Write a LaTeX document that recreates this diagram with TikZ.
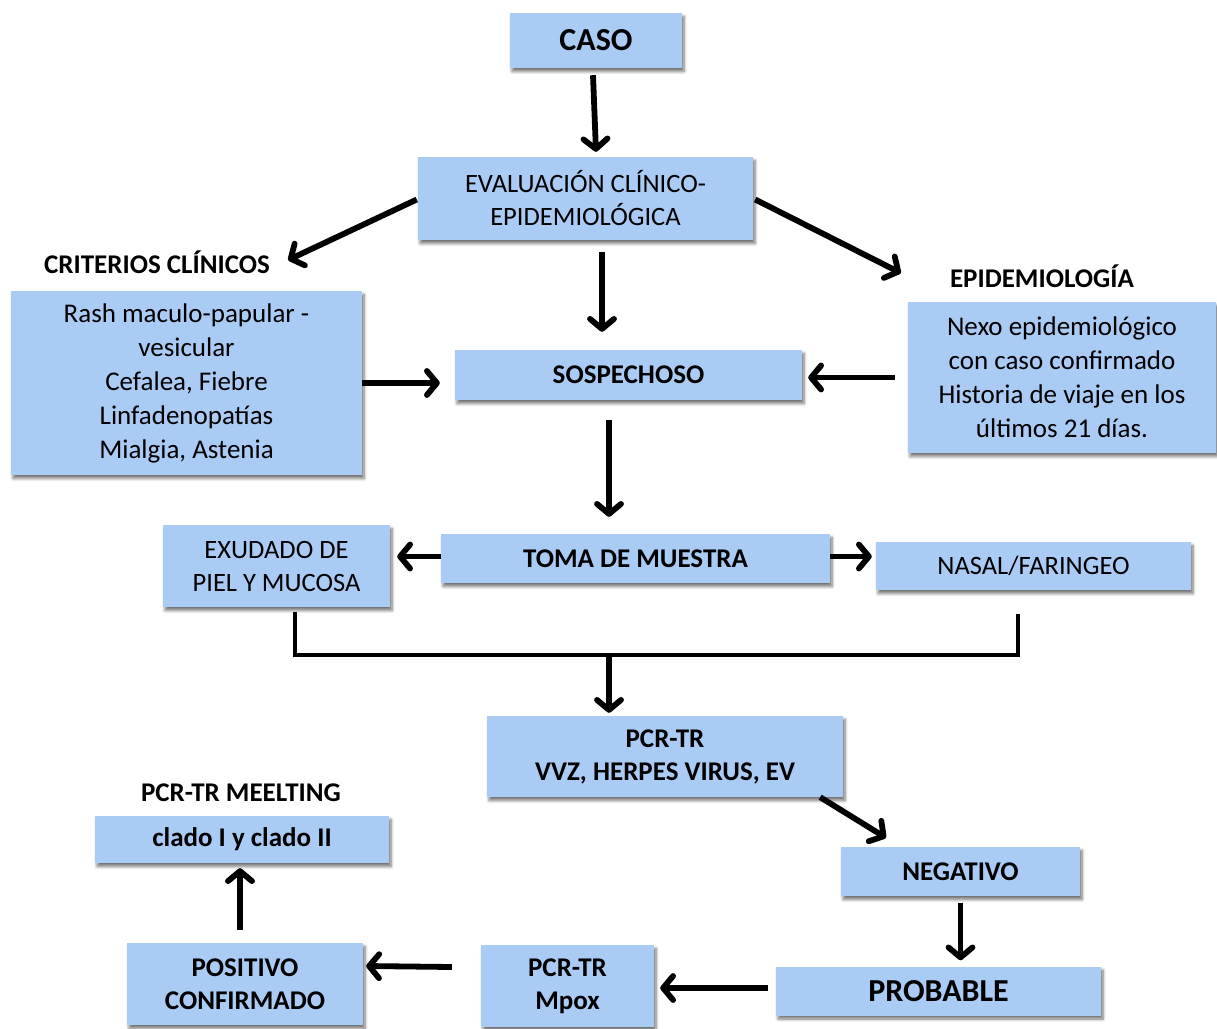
\documentclass[tikz,border=0pt]{standalone}
\usepackage{fontspec}
\setmainfont{Carlito}
\usetikzlibrary{arrows.meta,shadows.blur}
\definecolor{boxblue}{RGB}{169,203,244}
\tikzset{
  box/.style={fill=boxblue, inner sep=0pt, align=center,
    blur shadow={shadow xshift=2pt, shadow yshift=-3.5pt, shadow opacity=55, shadow blur steps=6, shadow blur radius=3pt},
    font=\fontsize{26.5}{33}\selectfont},
  boldbox/.style={box, font=\fontsize{27}{33}\selectfont\bfseries},
  bigbox/.style={box, font=\fontsize{32}{33}\selectfont\bfseries},
  lab/.style={inner sep=0pt, font=\fontsize{27}{30}\selectfont\bfseries},
  arr/.style={line width=5.8pt, -{Straight Barb[length=10pt,width=24pt,line cap=round,line join=round]}},
  line/.style={line width=4.5pt}
}
\begin{document}
\begin{tikzpicture}[x=1pt,y=-1pt]
\useasboundingbox (0,0) rectangle (1217,1028);
% boxes
\node[bigbox, minimum width=172, minimum height=55] (caso) at (596,40.5) {CASO};
\node[box, minimum width=335, minimum height=83] (eval) at (585.5,198.5) {EVALUACIÓN CLÍNICO-\\EPIDEMIOLÓGICA};
\node[lab] (crit) at (157,262) {CRITERIOS CLÍNICOS};
\node[box, minimum width=351, minimum height=184, font=\fontsize{27}{34}\selectfont] (clin) at (186.5,383) {Rash maculo-papular -\\vesicular\\Cefalea, Fiebre\\Linfadenopatías\\Mialgia, Astenia};
\node[lab] (epilab) at (1042,276) {EPIDEMIOLOGÍA};
\node[box, minimum width=308, minimum height=151, font=\fontsize{27}{34}\selectfont] (epi) at (1062,377.5) {Nexo epidemiológico\\con caso confirmado\\Historia de viaje en los\\últimos 21 días.};
\node[boldbox, minimum width=347, minimum height=50] (sosp) at (628.5,375) {SOSPECHOSO};
\node[boldbox, minimum width=389, minimum height=49] (toma) at (635.5,558.5) {TOMA DE MUESTRA};
\node[box, minimum width=227, minimum height=82] (exud) at (276.5,566) {EXUDADO DE\\PIEL Y MUCOSA};
\node[box, minimum width=315, minimum height=48] (nasal) at (1033.5,566) {NASAL/FARINGEO};
\node[boldbox, minimum width=356, minimum height=81] (pcr) at (665,756.5) {PCR-TR\\VVZ, HERPES VIRUS, EV};
\node[boldbox, minimum width=239, minimum height=49] (neg) at (960.5,871.5) {NEGATIVO};
\node[bigbox, minimum width=325, minimum height=49] (prob) at (938.5,991) {PROBABLE};
\node[boldbox, minimum width=173, minimum height=82] (mpox) at (567.5,986) {PCR-TR\\Mpox};
\node[boldbox, minimum width=236, minimum height=82] (pos) at (245,984) {POSITIVO\\CONFIRMADO};
\node[boldbox, minimum width=294, minimum height=47] (clado) at (242,839.5) {clado I y clado II};
\node[lab] (meel) at (241,793) {PCR-TR MEELTING};
% connectors
\draw[arr] ([shift={(-3,7)}]caso.south) -- ([shift={(10.5,-5)}]eval.north);
\draw[arr] ([shift={(-1,1)}]eval.west) -- ([shift={(18,-2)}]crit.east);
\draw[arr] ([shift={(2,1)}]eval.east) -- ([shift={(-49,-3)}]epilab.west);
\draw[arr] ([shift={(16.5,12)}]eval.south) -- ([shift={(-26.5,-18)}]sosp.north);
\draw[arr, shorten >=15pt] (clin.east) -- (clin.east -| sosp.west);
\draw[arr, shorten <=13pt, shorten >=6pt] (epi.west) -- (epi.west -| sosp.east);
\draw[arr] ([shift={(-19.5,20)}]sosp.south) -- ([shift={(-26.5,-17)}]toma.north);
\draw[arr, shorten >=7pt] ([yshift=2pt]toma.west) -- ([yshift=2pt]toma.west -| exud.east);
\draw[arr, shorten >=4pt] ([yshift=2pt]toma.east) -- ([yshift=2pt]toma.east -| nasal.west);
\draw[line] ([shift={(18.5,5)}]exud.south) -- ++(0,43) coordinate (jl) -| ([shift={(-15.5,24)}]nasal.south);
\coordinate (jc) at (609,655);
\draw[arr] ([yshift=2pt]jc) -- ([yshift=3pt]jc |- pcr.north);
\draw[arr] ([shift={(-23,0)}]pcr.south east) -- ([shift={(-74.5,-9)}]neg.north);
\draw[arr, shorten <=7pt, shorten >=6pt] (neg.south) -- (neg.south |- prob.north);
\draw[arr, shorten <=8pt, shorten >=6pt] ([yshift=3pt]prob.west) -- ([yshift=3pt]prob.west -| mpox.east);
\draw[arr] ([shift={(-29,-19)}]mpox.west) -- ([shift={(3,-18)}]pos.east);
\draw[arr, shorten <=13pt, shorten >=5pt] ([xshift=-5pt]pos.north) -- ([xshift=-5pt]pos.north |- clado.south);
\end{tikzpicture}
\end{document}
